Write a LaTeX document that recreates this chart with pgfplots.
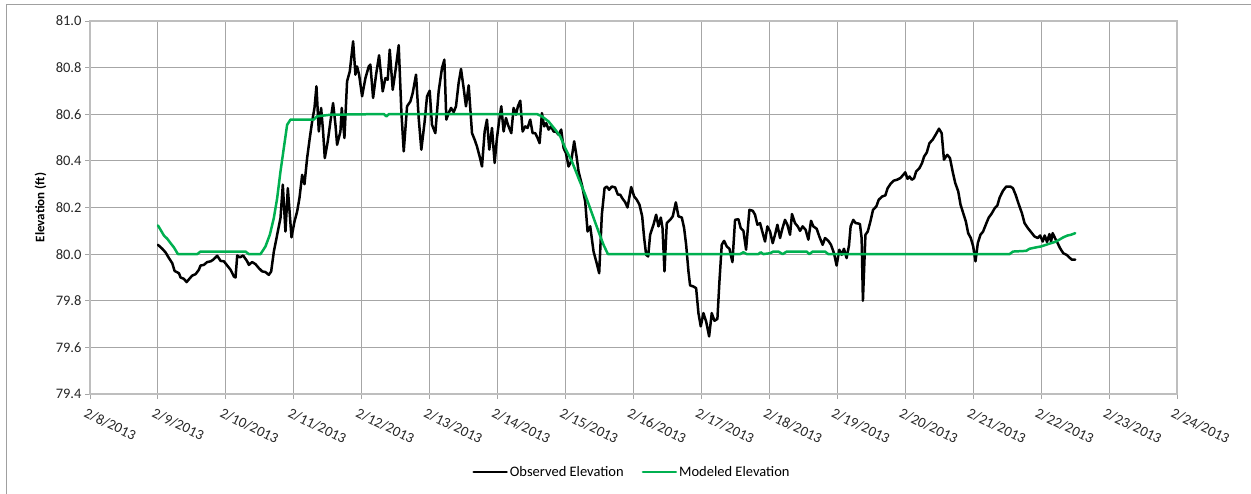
\documentclass[border=0pt]{standalone}
\usepackage{pgfplots}
\pgfplotsset{compat=1.18}
\usepackage{fontspec}
\setmainfont{Carlito}
\definecolor{obsblack}{RGB}{0,0,0}
\definecolor{modgreen}{RGB}{0,176,80}
\definecolor{gridgray}{RGB}{166,166,166}
\definecolor{axisgray}{RGB}{190,190,190}
\definecolor{framegray}{RGB}{160,160,160}
\begin{document}
\begin{tikzpicture}[x=1pt,y=1pt]
\useasboundingbox (0,0) rectangle (1251,493);
\draw[framegray, line width=0.9pt] (6.5,-5) -- (6.5,489) -- (1260,489);
\begin{axis}[
  at={(90pt,99pt)}, anchor=south west,
  scale only axis, width=1087pt, height=373pt,
  xmin=0, xmax=16, ymin=79.4, ymax=81.0,
  xtick={0,1,...,16},
  xticklabels={2/8/2013,2/9/2013,2/10/2013,2/11/2013,2/12/2013,2/13/2013,2/14/2013,2/15/2013,2/16/2013,2/17/2013,2/18/2013,2/19/2013,2/20/2013,2/21/2013,2/22/2013,2/23/2013,2/24/2013},
  ytick={79.4,79.6,79.8,80.0,80.2,80.4,80.6,80.8,81.0},
  yticklabel style={/pgf/number format/.cd, fixed, fixed zerofill, precision=1, assume math mode=true},
  xticklabel style={rotate=-26, anchor=north west, xshift=-2pt, yshift=-5pt},
  ticklabel style={font=\fontsize{14.5}{16}\selectfont, text=black!85},
  tick pos=left, tick align=outside, major tick length=5pt,
  tick style={gridgray, line width=0.9pt},
  grid=major,
  major grid style={gridgray, line width=0.9pt},
  axis line style={axisgray, line width=1.4pt},
  ylabel={\textbf{Elevation (ft)}},
  ylabel style={font=\fontsize{13}{15}\selectfont, at={(axis description cs:0,0.5)}, anchor=south, yshift=40pt},
  legend columns=2,
  legend style={draw=none, fill=none, at={(0.4986,-0.209)}, anchor=center, font=\fontsize{14.5}{16}\selectfont, inner sep=0pt, /tikz/every even column/.append style={column sep=16pt}},
  legend image code/.code={\draw[#1, line width=2.5pt] (0pt,0pt) -- (33pt,0pt);},
  every axis plot/.append style={line join=round, line cap=round},
]
\addplot[obsblack, line width=2.5pt] table[x=d, y=v] {
d v
1.000 80.040
1.064 80.023
1.113 80.007
1.162 79.983
1.211 79.961
1.245 79.928
1.309 79.918
1.333 79.900
1.382 79.894
1.422 79.880
1.471 79.897
1.505 79.908
1.554 79.914
1.603 79.933
1.627 79.951
1.676 79.954
1.725 79.966
1.775 79.969
1.814 79.976
1.873 79.993
1.922 79.971
1.971 79.969
2.020 79.951
2.069 79.933
2.118 79.904
2.142 79.900
2.167 79.994
2.206 79.986
2.255 79.994
2.314 79.969
2.338 79.954
2.387 79.966
2.436 79.957
2.485 79.940
2.534 79.926
2.583 79.923
2.632 79.911
2.667 79.926
2.706 80.011
2.755 80.083
2.804 80.155
2.838 80.298
2.877 80.097
2.912 80.283
2.966 80.072
3.010 80.140
3.049 80.183
3.083 80.240
3.123 80.340
3.157 80.300
3.196 80.412
3.235 80.498
3.270 80.569
3.304 80.627
3.333 80.720
3.368 80.526
3.402 80.627
3.431 80.526
3.456 80.412
3.500 80.484
3.539 80.569
3.578 80.648
3.613 80.555
3.637 80.469
3.686 80.526
3.706 80.627
3.745 80.498
3.784 80.741
3.824 80.784
3.873 80.913
3.907 80.770
3.931 80.805
3.961 80.770
4.005 80.677
4.054 80.755
4.103 80.805
4.127 80.813
4.167 80.670
4.211 80.770
4.255 80.853
4.309 80.698
4.348 80.755
4.382 80.748
4.412 80.877
4.456 80.705
4.495 80.784
4.544 80.896
4.583 80.612
4.618 80.441
4.667 80.634
4.716 80.655
4.750 80.691
4.799 80.770
4.838 80.584
4.877 80.448
4.926 80.569
4.961 80.677
5.000 80.701
5.034 80.555
5.083 80.519
5.132 80.698
5.181 80.798
5.216 80.834
5.245 80.577
5.279 80.605
5.314 80.627
5.353 80.609
5.387 80.634
5.426 80.734
5.461 80.794
5.500 80.712
5.534 80.634
5.574 80.724
5.623 80.519
5.662 80.491
5.696 80.462
5.735 80.419
5.770 80.376
5.809 80.526
5.843 80.577
5.877 80.448
5.917 80.541
5.956 80.391
5.990 80.498
6.025 80.577
6.054 80.634
6.088 80.526
6.123 80.584
6.152 80.555
6.201 80.519
6.235 80.627
6.270 80.598
6.299 80.634
6.333 80.658
6.368 80.526
6.407 80.548
6.441 80.541
6.480 80.577
6.515 80.519
6.554 80.519
6.588 80.498
6.618 80.476
6.652 80.605
6.686 80.548
6.716 80.562
6.750 80.534
6.784 80.548
6.824 80.526
6.858 80.526
6.897 80.512
6.936 80.534
6.971 80.455
7.005 80.434
7.044 80.376
7.083 80.398
7.127 80.484
7.162 80.419
7.191 80.355
7.240 80.298
7.289 80.226
7.324 80.097
7.363 80.119
7.412 80.011
7.451 79.969
7.495 79.918
7.534 80.169
7.574 80.283
7.608 80.290
7.642 80.276
7.681 80.290
7.730 80.286
7.770 80.255
7.804 80.255
7.838 80.238
7.877 80.223
7.912 80.200
7.966 80.288
8.010 80.247
8.049 80.233
8.088 80.212
8.128 80.162
8.157 80.069
8.186 79.997
8.216 79.990
8.245 80.083
8.294 80.126
8.333 80.169
8.368 80.119
8.402 80.157
8.427 80.112
8.456 79.926
8.490 80.133
8.539 80.147
8.578 80.162
8.623 80.222
8.662 80.162
8.711 80.157
8.745 80.112
8.775 80.040
8.809 79.926
8.833 79.866
8.882 79.861
8.922 79.854
8.956 79.747
8.990 79.690
9.029 79.747
9.069 79.711
9.113 79.647
9.152 79.747
9.191 79.714
9.235 79.722
9.265 79.883
9.299 80.040
9.333 80.057
9.373 80.033
9.412 80.023
9.456 79.966
9.495 80.147
9.544 80.150
9.578 80.112
9.618 80.100
9.657 80.019
9.706 80.190
9.755 80.186
9.789 80.169
9.824 80.126
9.863 80.133
9.902 80.090
9.936 80.054
9.971 80.119
10.010 80.097
10.049 80.047
10.083 80.083
10.118 80.126
10.157 80.069
10.191 80.109
10.230 80.147
10.265 80.126
10.304 80.083
10.333 80.172
10.377 80.133
10.417 80.119
10.451 80.100
10.490 80.119
10.534 80.104
10.574 80.062
10.613 80.143
10.647 80.119
10.696 80.109
10.735 80.076
10.784 80.040
10.819 80.069
10.868 80.057
10.907 80.040
10.951 80.004
10.990 79.951
11.029 80.019
11.064 79.997
11.098 80.023
11.137 79.983
11.172 80.037
11.196 80.119
11.235 80.147
11.270 80.133
11.299 80.132
11.333 80.129
11.358 80.069
11.377 79.800
11.414 80.083
11.448 80.097
11.487 80.140
11.526 80.190
11.575 80.205
11.609 80.233
11.658 80.247
11.707 80.252
11.741 80.283
11.780 80.300
11.829 80.315
11.878 80.319
11.926 80.326
11.965 80.338
12.000 80.351
12.034 80.323
12.063 80.333
12.097 80.319
12.131 80.326
12.161 80.355
12.209 80.369
12.248 80.391
12.278 80.419
12.317 80.436
12.356 80.476
12.404 80.491
12.453 80.515
12.497 80.538
12.536 80.519
12.570 80.405
12.600 80.419
12.619 80.426
12.658 80.412
12.697 80.355
12.736 80.305
12.780 80.269
12.814 80.212
12.853 80.176
12.892 80.140
12.926 80.090
12.965 80.069
13.000 80.033
13.034 79.969
13.068 80.047
13.107 80.083
13.146 80.097
13.185 80.126
13.229 80.157
13.268 80.172
13.317 80.197
13.356 80.209
13.390 80.243
13.439 80.272
13.487 80.290
13.546 80.290
13.585 80.283
13.624 80.255
13.673 80.212
13.717 80.176
13.756 80.133
13.804 80.112
13.853 80.094
13.902 80.076
13.951 80.069
13.985 80.080
14.024 80.054
14.053 80.080
14.087 80.052
14.122 80.086
14.146 80.054
14.170 80.090
14.204 80.069
14.243 80.047
14.278 80.026
14.326 80.004
14.375 79.997
14.414 79.986
14.453 79.976
14.502 79.976
};
\addlegendentry{Observed Elevation}
\addplot[modgreen, line width=2.5pt] table[x=d, y=v] {
d v
1.000 80.123
1.039 80.104
1.088 80.080
1.137 80.066
1.186 80.047
1.235 80.029
1.294 80.000
1.578 80.000
1.627 80.011
2.289 80.011
2.338 80.000
2.510 80.000
2.583 80.033
2.647 80.083
2.706 80.155
2.755 80.240
2.804 80.355
2.853 80.455
2.902 80.555
2.951 80.577
3.294 80.577
3.343 80.591
3.539 80.598
4.324 80.601
4.363 80.591
4.402 80.601
6.578 80.601
6.652 80.591
6.750 80.569
6.848 80.534
6.922 80.505
6.995 80.455
7.093 80.398
7.191 80.326
7.289 80.255
7.387 80.176
7.485 80.097
7.559 80.040
7.623 80.000
9.569 80.000
9.618 80.008
9.667 80.000
9.838 80.000
9.873 80.008
9.912 80.000
10.010 80.004
10.059 80.011
10.132 80.011
10.196 80.000
10.255 80.011
10.549 80.011
10.588 80.000
10.637 80.011
10.819 80.011
10.868 80.000
13.536 80.000
13.585 80.011
13.780 80.014
13.829 80.023
13.926 80.029
14.000 80.033
14.073 80.040
14.146 80.047
14.219 80.054
14.268 80.062
14.326 80.072
14.390 80.080
14.439 80.083
14.502 80.090
};
\addlegendentry{Modeled Elevation}
\end{axis}
\end{tikzpicture}
\end{document}
